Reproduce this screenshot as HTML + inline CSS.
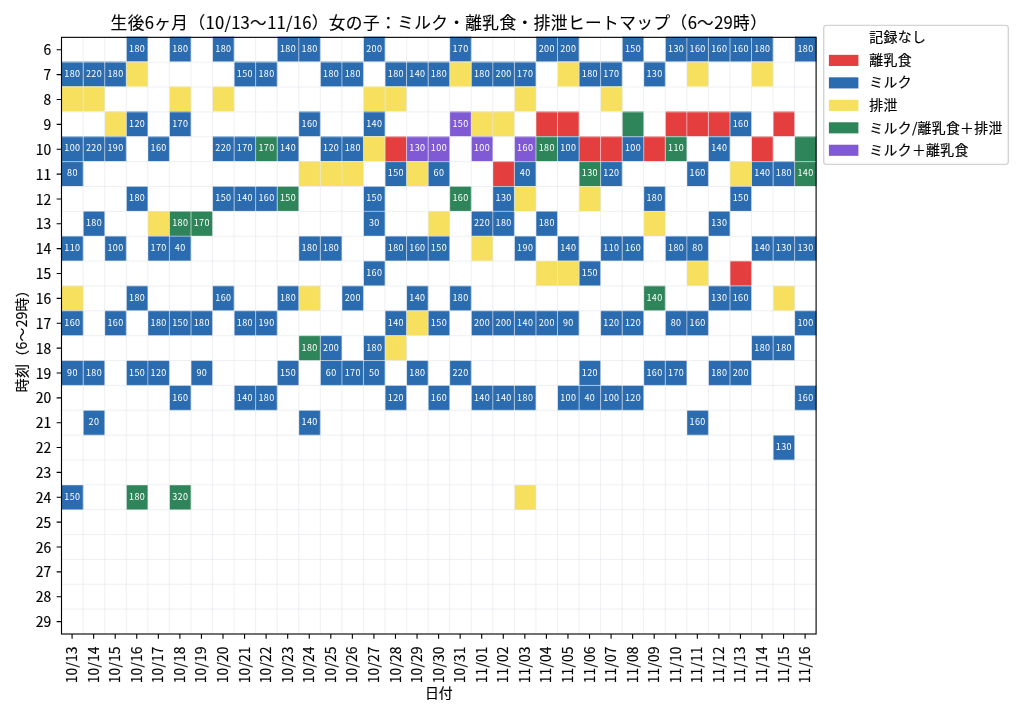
<!DOCTYPE html>
<html lang="ja"><head><meta charset="utf-8"><title>ヒートマップ</title>
<style>html,body{margin:0;padding:0;background:#fff}body{width:1024px;height:717px;overflow:hidden}svg{display:block}text{font-family:"Noto Sans CJK JP", "Liberation Sans", sans-serif;fill:#000}.c{font-size:9.03px;text-anchor:middle;letter-spacing:0.38px}.c text{fill:#fff}.t{font-size:13.89px}.t text,text.t{stroke:#000;stroke-width:0.18px}</style></head><body>
<svg width="1024" height="717" viewBox="0 0 1024 717">
<rect width="1024" height="717" fill="#fff"/>
<g shape-rendering="auto">
<rect x="126.43" y="36.70" width="21.56" height="24.91" fill="#2b6cb0"/>
<rect x="169.55" y="36.70" width="21.56" height="24.91" fill="#2b6cb0"/>
<rect x="212.67" y="36.70" width="21.56" height="24.91" fill="#2b6cb0"/>
<rect x="277.35" y="36.70" width="21.56" height="24.91" fill="#2b6cb0"/>
<rect x="298.91" y="36.70" width="21.56" height="24.91" fill="#2b6cb0"/>
<rect x="363.59" y="36.70" width="21.56" height="24.91" fill="#2b6cb0"/>
<rect x="449.83" y="36.70" width="21.56" height="24.91" fill="#2b6cb0"/>
<rect x="536.07" y="36.70" width="21.56" height="24.91" fill="#2b6cb0"/>
<rect x="557.63" y="36.70" width="21.56" height="24.91" fill="#2b6cb0"/>
<rect x="622.31" y="36.70" width="21.56" height="24.91" fill="#2b6cb0"/>
<rect x="665.43" y="36.70" width="21.56" height="24.91" fill="#2b6cb0"/>
<rect x="686.99" y="36.70" width="21.56" height="24.91" fill="#2b6cb0"/>
<rect x="708.55" y="36.70" width="21.56" height="24.91" fill="#2b6cb0"/>
<rect x="730.11" y="36.70" width="21.56" height="24.91" fill="#2b6cb0"/>
<rect x="751.67" y="36.70" width="21.56" height="24.91" fill="#2b6cb0"/>
<rect x="794.79" y="36.70" width="21.56" height="24.91" fill="#2b6cb0"/>
<rect x="61.75" y="61.61" width="21.56" height="24.91" fill="#2b6cb0"/>
<rect x="83.31" y="61.61" width="21.56" height="24.91" fill="#2b6cb0"/>
<rect x="104.87" y="61.61" width="21.56" height="24.91" fill="#2b6cb0"/>
<rect x="126.43" y="61.61" width="21.56" height="24.91" fill="#f6e05e"/>
<rect x="234.23" y="61.61" width="21.56" height="24.91" fill="#2b6cb0"/>
<rect x="255.79" y="61.61" width="21.56" height="24.91" fill="#2b6cb0"/>
<rect x="320.47" y="61.61" width="21.56" height="24.91" fill="#2b6cb0"/>
<rect x="342.03" y="61.61" width="21.56" height="24.91" fill="#2b6cb0"/>
<rect x="385.15" y="61.61" width="21.56" height="24.91" fill="#2b6cb0"/>
<rect x="406.71" y="61.61" width="21.56" height="24.91" fill="#2b6cb0"/>
<rect x="428.27" y="61.61" width="21.56" height="24.91" fill="#2b6cb0"/>
<rect x="449.83" y="61.61" width="21.56" height="24.91" fill="#f6e05e"/>
<rect x="471.39" y="61.61" width="21.56" height="24.91" fill="#2b6cb0"/>
<rect x="492.95" y="61.61" width="21.56" height="24.91" fill="#2b6cb0"/>
<rect x="514.51" y="61.61" width="21.56" height="24.91" fill="#2b6cb0"/>
<rect x="557.63" y="61.61" width="21.56" height="24.91" fill="#f6e05e"/>
<rect x="579.19" y="61.61" width="21.56" height="24.91" fill="#2b6cb0"/>
<rect x="600.75" y="61.61" width="21.56" height="24.91" fill="#2b6cb0"/>
<rect x="643.87" y="61.61" width="21.56" height="24.91" fill="#2b6cb0"/>
<rect x="686.99" y="61.61" width="21.56" height="24.91" fill="#f6e05e"/>
<rect x="751.67" y="61.61" width="21.56" height="24.91" fill="#f6e05e"/>
<rect x="61.75" y="86.52" width="21.56" height="24.91" fill="#f6e05e"/>
<rect x="83.31" y="86.52" width="21.56" height="24.91" fill="#f6e05e"/>
<rect x="169.55" y="86.52" width="21.56" height="24.91" fill="#f6e05e"/>
<rect x="212.67" y="86.52" width="21.56" height="24.91" fill="#f6e05e"/>
<rect x="363.59" y="86.52" width="21.56" height="24.91" fill="#f6e05e"/>
<rect x="385.15" y="86.52" width="21.56" height="24.91" fill="#f6e05e"/>
<rect x="514.51" y="86.52" width="21.56" height="24.91" fill="#f6e05e"/>
<rect x="600.75" y="86.52" width="21.56" height="24.91" fill="#f6e05e"/>
<rect x="104.87" y="111.42" width="21.56" height="24.91" fill="#f6e05e"/>
<rect x="126.43" y="111.42" width="21.56" height="24.91" fill="#2b6cb0"/>
<rect x="169.55" y="111.42" width="21.56" height="24.91" fill="#2b6cb0"/>
<rect x="298.91" y="111.42" width="21.56" height="24.91" fill="#2b6cb0"/>
<rect x="363.59" y="111.42" width="21.56" height="24.91" fill="#2b6cb0"/>
<rect x="449.83" y="111.42" width="21.56" height="24.91" fill="#805ad5"/>
<rect x="471.39" y="111.42" width="21.56" height="24.91" fill="#f6e05e"/>
<rect x="492.95" y="111.42" width="21.56" height="24.91" fill="#f6e05e"/>
<rect x="536.07" y="111.42" width="21.56" height="24.91" fill="#e53e3e"/>
<rect x="557.63" y="111.42" width="21.56" height="24.91" fill="#e53e3e"/>
<rect x="622.31" y="111.42" width="21.56" height="24.91" fill="#2f855a"/>
<rect x="665.43" y="111.42" width="21.56" height="24.91" fill="#e53e3e"/>
<rect x="686.99" y="111.42" width="21.56" height="24.91" fill="#e53e3e"/>
<rect x="708.55" y="111.42" width="21.56" height="24.91" fill="#e53e3e"/>
<rect x="730.11" y="111.42" width="21.56" height="24.91" fill="#2b6cb0"/>
<rect x="773.23" y="111.42" width="21.56" height="24.91" fill="#e53e3e"/>
<rect x="61.75" y="136.33" width="21.56" height="24.91" fill="#2b6cb0"/>
<rect x="83.31" y="136.33" width="21.56" height="24.91" fill="#2b6cb0"/>
<rect x="104.87" y="136.33" width="21.56" height="24.91" fill="#2b6cb0"/>
<rect x="147.99" y="136.33" width="21.56" height="24.91" fill="#2b6cb0"/>
<rect x="212.67" y="136.33" width="21.56" height="24.91" fill="#2b6cb0"/>
<rect x="234.23" y="136.33" width="21.56" height="24.91" fill="#2b6cb0"/>
<rect x="255.79" y="136.33" width="21.56" height="24.91" fill="#2f855a"/>
<rect x="277.35" y="136.33" width="21.56" height="24.91" fill="#2b6cb0"/>
<rect x="320.47" y="136.33" width="21.56" height="24.91" fill="#2b6cb0"/>
<rect x="342.03" y="136.33" width="21.56" height="24.91" fill="#2b6cb0"/>
<rect x="363.59" y="136.33" width="21.56" height="24.91" fill="#f6e05e"/>
<rect x="385.15" y="136.33" width="21.56" height="24.91" fill="#e53e3e"/>
<rect x="406.71" y="136.33" width="21.56" height="24.91" fill="#805ad5"/>
<rect x="428.27" y="136.33" width="21.56" height="24.91" fill="#805ad5"/>
<rect x="471.39" y="136.33" width="21.56" height="24.91" fill="#805ad5"/>
<rect x="514.51" y="136.33" width="21.56" height="24.91" fill="#805ad5"/>
<rect x="536.07" y="136.33" width="21.56" height="24.91" fill="#2f855a"/>
<rect x="557.63" y="136.33" width="21.56" height="24.91" fill="#2b6cb0"/>
<rect x="579.19" y="136.33" width="21.56" height="24.91" fill="#e53e3e"/>
<rect x="600.75" y="136.33" width="21.56" height="24.91" fill="#e53e3e"/>
<rect x="622.31" y="136.33" width="21.56" height="24.91" fill="#2b6cb0"/>
<rect x="643.87" y="136.33" width="21.56" height="24.91" fill="#e53e3e"/>
<rect x="665.43" y="136.33" width="21.56" height="24.91" fill="#2f855a"/>
<rect x="708.55" y="136.33" width="21.56" height="24.91" fill="#2b6cb0"/>
<rect x="751.67" y="136.33" width="21.56" height="24.91" fill="#e53e3e"/>
<rect x="794.79" y="136.33" width="21.56" height="24.91" fill="#2f855a"/>
<rect x="61.75" y="161.24" width="21.56" height="24.91" fill="#2b6cb0"/>
<rect x="298.91" y="161.24" width="21.56" height="24.91" fill="#f6e05e"/>
<rect x="320.47" y="161.24" width="21.56" height="24.91" fill="#f6e05e"/>
<rect x="342.03" y="161.24" width="21.56" height="24.91" fill="#f6e05e"/>
<rect x="385.15" y="161.24" width="21.56" height="24.91" fill="#2b6cb0"/>
<rect x="406.71" y="161.24" width="21.56" height="24.91" fill="#f6e05e"/>
<rect x="428.27" y="161.24" width="21.56" height="24.91" fill="#2b6cb0"/>
<rect x="492.95" y="161.24" width="21.56" height="24.91" fill="#e53e3e"/>
<rect x="514.51" y="161.24" width="21.56" height="24.91" fill="#2b6cb0"/>
<rect x="579.19" y="161.24" width="21.56" height="24.91" fill="#2f855a"/>
<rect x="600.75" y="161.24" width="21.56" height="24.91" fill="#2b6cb0"/>
<rect x="686.99" y="161.24" width="21.56" height="24.91" fill="#2b6cb0"/>
<rect x="730.11" y="161.24" width="21.56" height="24.91" fill="#f6e05e"/>
<rect x="751.67" y="161.24" width="21.56" height="24.91" fill="#2b6cb0"/>
<rect x="773.23" y="161.24" width="21.56" height="24.91" fill="#2b6cb0"/>
<rect x="794.79" y="161.24" width="21.56" height="24.91" fill="#2f855a"/>
<rect x="126.43" y="186.15" width="21.56" height="24.91" fill="#2b6cb0"/>
<rect x="212.67" y="186.15" width="21.56" height="24.91" fill="#2b6cb0"/>
<rect x="234.23" y="186.15" width="21.56" height="24.91" fill="#2b6cb0"/>
<rect x="255.79" y="186.15" width="21.56" height="24.91" fill="#2b6cb0"/>
<rect x="277.35" y="186.15" width="21.56" height="24.91" fill="#2f855a"/>
<rect x="363.59" y="186.15" width="21.56" height="24.91" fill="#2b6cb0"/>
<rect x="449.83" y="186.15" width="21.56" height="24.91" fill="#2f855a"/>
<rect x="492.95" y="186.15" width="21.56" height="24.91" fill="#2b6cb0"/>
<rect x="514.51" y="186.15" width="21.56" height="24.91" fill="#f6e05e"/>
<rect x="579.19" y="186.15" width="21.56" height="24.91" fill="#f6e05e"/>
<rect x="643.87" y="186.15" width="21.56" height="24.91" fill="#2b6cb0"/>
<rect x="730.11" y="186.15" width="21.56" height="24.91" fill="#2b6cb0"/>
<rect x="83.31" y="211.06" width="21.56" height="24.91" fill="#2b6cb0"/>
<rect x="147.99" y="211.06" width="21.56" height="24.91" fill="#f6e05e"/>
<rect x="169.55" y="211.06" width="21.56" height="24.91" fill="#2f855a"/>
<rect x="191.11" y="211.06" width="21.56" height="24.91" fill="#2f855a"/>
<rect x="363.59" y="211.06" width="21.56" height="24.91" fill="#2b6cb0"/>
<rect x="428.27" y="211.06" width="21.56" height="24.91" fill="#f6e05e"/>
<rect x="471.39" y="211.06" width="21.56" height="24.91" fill="#2b6cb0"/>
<rect x="492.95" y="211.06" width="21.56" height="24.91" fill="#2b6cb0"/>
<rect x="536.07" y="211.06" width="21.56" height="24.91" fill="#2b6cb0"/>
<rect x="643.87" y="211.06" width="21.56" height="24.91" fill="#f6e05e"/>
<rect x="708.55" y="211.06" width="21.56" height="24.91" fill="#2b6cb0"/>
<rect x="61.75" y="235.97" width="21.56" height="24.91" fill="#2b6cb0"/>
<rect x="104.87" y="235.97" width="21.56" height="24.91" fill="#2b6cb0"/>
<rect x="147.99" y="235.97" width="21.56" height="24.91" fill="#2b6cb0"/>
<rect x="169.55" y="235.97" width="21.56" height="24.91" fill="#2b6cb0"/>
<rect x="298.91" y="235.97" width="21.56" height="24.91" fill="#2b6cb0"/>
<rect x="320.47" y="235.97" width="21.56" height="24.91" fill="#2b6cb0"/>
<rect x="385.15" y="235.97" width="21.56" height="24.91" fill="#2b6cb0"/>
<rect x="406.71" y="235.97" width="21.56" height="24.91" fill="#2b6cb0"/>
<rect x="428.27" y="235.97" width="21.56" height="24.91" fill="#2b6cb0"/>
<rect x="471.39" y="235.97" width="21.56" height="24.91" fill="#f6e05e"/>
<rect x="514.51" y="235.97" width="21.56" height="24.91" fill="#2b6cb0"/>
<rect x="557.63" y="235.97" width="21.56" height="24.91" fill="#2b6cb0"/>
<rect x="600.75" y="235.97" width="21.56" height="24.91" fill="#2b6cb0"/>
<rect x="622.31" y="235.97" width="21.56" height="24.91" fill="#2b6cb0"/>
<rect x="665.43" y="235.97" width="21.56" height="24.91" fill="#2b6cb0"/>
<rect x="686.99" y="235.97" width="21.56" height="24.91" fill="#2b6cb0"/>
<rect x="751.67" y="235.97" width="21.56" height="24.91" fill="#2b6cb0"/>
<rect x="773.23" y="235.97" width="21.56" height="24.91" fill="#2b6cb0"/>
<rect x="794.79" y="235.97" width="21.56" height="24.91" fill="#2b6cb0"/>
<rect x="363.59" y="260.88" width="21.56" height="24.91" fill="#2b6cb0"/>
<rect x="536.07" y="260.88" width="21.56" height="24.91" fill="#f6e05e"/>
<rect x="557.63" y="260.88" width="21.56" height="24.91" fill="#f6e05e"/>
<rect x="579.19" y="260.88" width="21.56" height="24.91" fill="#2b6cb0"/>
<rect x="686.99" y="260.88" width="21.56" height="24.91" fill="#f6e05e"/>
<rect x="730.11" y="260.88" width="21.56" height="24.91" fill="#e53e3e"/>
<rect x="61.75" y="285.78" width="21.56" height="24.91" fill="#f6e05e"/>
<rect x="126.43" y="285.78" width="21.56" height="24.91" fill="#2b6cb0"/>
<rect x="212.67" y="285.78" width="21.56" height="24.91" fill="#2b6cb0"/>
<rect x="277.35" y="285.78" width="21.56" height="24.91" fill="#2b6cb0"/>
<rect x="298.91" y="285.78" width="21.56" height="24.91" fill="#f6e05e"/>
<rect x="342.03" y="285.78" width="21.56" height="24.91" fill="#2b6cb0"/>
<rect x="406.71" y="285.78" width="21.56" height="24.91" fill="#2b6cb0"/>
<rect x="449.83" y="285.78" width="21.56" height="24.91" fill="#2b6cb0"/>
<rect x="643.87" y="285.78" width="21.56" height="24.91" fill="#2f855a"/>
<rect x="708.55" y="285.78" width="21.56" height="24.91" fill="#2b6cb0"/>
<rect x="730.11" y="285.78" width="21.56" height="24.91" fill="#2b6cb0"/>
<rect x="773.23" y="285.78" width="21.56" height="24.91" fill="#f6e05e"/>
<rect x="61.75" y="310.69" width="21.56" height="24.91" fill="#2b6cb0"/>
<rect x="104.87" y="310.69" width="21.56" height="24.91" fill="#2b6cb0"/>
<rect x="147.99" y="310.69" width="21.56" height="24.91" fill="#2b6cb0"/>
<rect x="169.55" y="310.69" width="21.56" height="24.91" fill="#2b6cb0"/>
<rect x="191.11" y="310.69" width="21.56" height="24.91" fill="#2b6cb0"/>
<rect x="234.23" y="310.69" width="21.56" height="24.91" fill="#2b6cb0"/>
<rect x="255.79" y="310.69" width="21.56" height="24.91" fill="#2b6cb0"/>
<rect x="385.15" y="310.69" width="21.56" height="24.91" fill="#2b6cb0"/>
<rect x="406.71" y="310.69" width="21.56" height="24.91" fill="#f6e05e"/>
<rect x="428.27" y="310.69" width="21.56" height="24.91" fill="#2b6cb0"/>
<rect x="471.39" y="310.69" width="21.56" height="24.91" fill="#2b6cb0"/>
<rect x="492.95" y="310.69" width="21.56" height="24.91" fill="#2b6cb0"/>
<rect x="514.51" y="310.69" width="21.56" height="24.91" fill="#2b6cb0"/>
<rect x="536.07" y="310.69" width="21.56" height="24.91" fill="#2b6cb0"/>
<rect x="557.63" y="310.69" width="21.56" height="24.91" fill="#2b6cb0"/>
<rect x="600.75" y="310.69" width="21.56" height="24.91" fill="#2b6cb0"/>
<rect x="622.31" y="310.69" width="21.56" height="24.91" fill="#2b6cb0"/>
<rect x="665.43" y="310.69" width="21.56" height="24.91" fill="#2b6cb0"/>
<rect x="686.99" y="310.69" width="21.56" height="24.91" fill="#2b6cb0"/>
<rect x="794.79" y="310.69" width="21.56" height="24.91" fill="#2b6cb0"/>
<rect x="298.91" y="335.60" width="21.56" height="24.91" fill="#2f855a"/>
<rect x="320.47" y="335.60" width="21.56" height="24.91" fill="#2b6cb0"/>
<rect x="363.59" y="335.60" width="21.56" height="24.91" fill="#2b6cb0"/>
<rect x="385.15" y="335.60" width="21.56" height="24.91" fill="#f6e05e"/>
<rect x="751.67" y="335.60" width="21.56" height="24.91" fill="#2b6cb0"/>
<rect x="773.23" y="335.60" width="21.56" height="24.91" fill="#2b6cb0"/>
<rect x="61.75" y="360.51" width="21.56" height="24.91" fill="#2b6cb0"/>
<rect x="83.31" y="360.51" width="21.56" height="24.91" fill="#2b6cb0"/>
<rect x="126.43" y="360.51" width="21.56" height="24.91" fill="#2b6cb0"/>
<rect x="147.99" y="360.51" width="21.56" height="24.91" fill="#2b6cb0"/>
<rect x="191.11" y="360.51" width="21.56" height="24.91" fill="#2b6cb0"/>
<rect x="277.35" y="360.51" width="21.56" height="24.91" fill="#2b6cb0"/>
<rect x="320.47" y="360.51" width="21.56" height="24.91" fill="#2b6cb0"/>
<rect x="342.03" y="360.51" width="21.56" height="24.91" fill="#2b6cb0"/>
<rect x="363.59" y="360.51" width="21.56" height="24.91" fill="#2b6cb0"/>
<rect x="406.71" y="360.51" width="21.56" height="24.91" fill="#2b6cb0"/>
<rect x="449.83" y="360.51" width="21.56" height="24.91" fill="#2b6cb0"/>
<rect x="579.19" y="360.51" width="21.56" height="24.91" fill="#2b6cb0"/>
<rect x="643.87" y="360.51" width="21.56" height="24.91" fill="#2b6cb0"/>
<rect x="665.43" y="360.51" width="21.56" height="24.91" fill="#2b6cb0"/>
<rect x="708.55" y="360.51" width="21.56" height="24.91" fill="#2b6cb0"/>
<rect x="730.11" y="360.51" width="21.56" height="24.91" fill="#2b6cb0"/>
<rect x="169.55" y="385.42" width="21.56" height="24.91" fill="#2b6cb0"/>
<rect x="234.23" y="385.42" width="21.56" height="24.91" fill="#2b6cb0"/>
<rect x="255.79" y="385.42" width="21.56" height="24.91" fill="#2b6cb0"/>
<rect x="385.15" y="385.42" width="21.56" height="24.91" fill="#2b6cb0"/>
<rect x="428.27" y="385.42" width="21.56" height="24.91" fill="#2b6cb0"/>
<rect x="471.39" y="385.42" width="21.56" height="24.91" fill="#2b6cb0"/>
<rect x="492.95" y="385.42" width="21.56" height="24.91" fill="#2b6cb0"/>
<rect x="514.51" y="385.42" width="21.56" height="24.91" fill="#2b6cb0"/>
<rect x="557.63" y="385.42" width="21.56" height="24.91" fill="#2b6cb0"/>
<rect x="579.19" y="385.42" width="21.56" height="24.91" fill="#2b6cb0"/>
<rect x="600.75" y="385.42" width="21.56" height="24.91" fill="#2b6cb0"/>
<rect x="622.31" y="385.42" width="21.56" height="24.91" fill="#2b6cb0"/>
<rect x="794.79" y="385.42" width="21.56" height="24.91" fill="#2b6cb0"/>
<rect x="83.31" y="410.32" width="21.56" height="24.91" fill="#2b6cb0"/>
<rect x="298.91" y="410.32" width="21.56" height="24.91" fill="#2b6cb0"/>
<rect x="686.99" y="410.32" width="21.56" height="24.91" fill="#2b6cb0"/>
<rect x="773.23" y="435.23" width="21.56" height="24.91" fill="#2b6cb0"/>
<rect x="61.75" y="485.05" width="21.56" height="24.91" fill="#2b6cb0"/>
<rect x="126.43" y="485.05" width="21.56" height="24.91" fill="#2f855a"/>
<rect x="169.55" y="485.05" width="21.56" height="24.91" fill="#2f855a"/>
<rect x="514.51" y="485.05" width="21.56" height="24.91" fill="#f6e05e"/>
</g>
<path d="M83.16 37.35V634.00M104.72 37.35V634.00M126.28 37.35V634.00M147.84 37.35V634.00M169.40 37.35V634.00M190.96 37.35V634.00M212.52 37.35V634.00M234.08 37.35V634.00M255.64 37.35V634.00M277.20 37.35V634.00M298.76 37.35V634.00M320.32 37.35V634.00M341.88 37.35V634.00M363.44 37.35V634.00M385.00 37.35V634.00M406.56 37.35V634.00M428.12 37.35V634.00M449.68 37.35V634.00M471.24 37.35V634.00M492.80 37.35V634.00M514.36 37.35V634.00M535.92 37.35V634.00M557.48 37.35V634.00M579.04 37.35V634.00M600.60 37.35V634.00M622.16 37.35V634.00M643.72 37.35V634.00M665.28 37.35V634.00M686.84 37.35V634.00M708.40 37.35V634.00M729.96 37.35V634.00M751.52 37.35V634.00M773.08 37.35V634.00M794.64 37.35V634.00M61.50 62.21H816.10M61.50 87.07H816.10M61.50 111.93H816.10M61.50 136.79H816.10M61.50 161.65H816.10M61.50 186.51H816.10M61.50 211.37H816.10M61.50 236.23H816.10M61.50 261.09H816.10M61.50 285.95H816.10M61.50 310.81H816.10M61.50 335.68H816.10M61.50 360.54H816.10M61.50 385.40H816.10M61.50 410.26H816.10M61.50 435.12H816.10M61.50 459.98H816.10M61.50 484.84H816.10M61.50 509.70H816.10M61.50 534.56H816.10M61.50 559.42H816.10M61.50 584.28H816.10M61.50 609.14H816.10" stroke="#e4e7ec" stroke-opacity="0.9" stroke-width="0.7" fill="none"/>
<g class="c">
<text x="137.11" y="51.85">180</text>
<text x="180.23" y="51.85">180</text>
<text x="223.35" y="51.85">180</text>
<text x="288.03" y="51.85">180</text>
<text x="309.59" y="51.85">180</text>
<text x="374.27" y="51.85">200</text>
<text x="460.51" y="51.85">170</text>
<text x="546.75" y="51.85">200</text>
<text x="568.31" y="51.85">200</text>
<text x="632.99" y="51.85">150</text>
<text x="676.11" y="51.85">130</text>
<text x="697.67" y="51.85">160</text>
<text x="719.23" y="51.85">160</text>
<text x="740.79" y="51.85">160</text>
<text x="762.35" y="51.85">180</text>
<text x="805.47" y="51.85">180</text>
<text x="72.43" y="76.76">180</text>
<text x="93.99" y="76.76">220</text>
<text x="115.55" y="76.76">180</text>
<text x="244.91" y="76.76">150</text>
<text x="266.47" y="76.76">180</text>
<text x="331.15" y="76.76">180</text>
<text x="352.71" y="76.76">180</text>
<text x="395.83" y="76.76">180</text>
<text x="417.39" y="76.76">140</text>
<text x="438.95" y="76.76">180</text>
<text x="482.07" y="76.76">180</text>
<text x="503.63" y="76.76">200</text>
<text x="525.19" y="76.76">170</text>
<text x="589.87" y="76.76">180</text>
<text x="611.43" y="76.76">170</text>
<text x="654.55" y="76.76">130</text>
<text x="137.11" y="126.58">120</text>
<text x="180.23" y="126.58">170</text>
<text x="309.59" y="126.58">160</text>
<text x="374.27" y="126.58">140</text>
<text x="460.51" y="126.58">150</text>
<text x="740.79" y="126.58">160</text>
<text x="72.43" y="151.49">100</text>
<text x="93.99" y="151.49">220</text>
<text x="115.55" y="151.49">190</text>
<text x="158.67" y="151.49">160</text>
<text x="223.35" y="151.49">220</text>
<text x="244.91" y="151.49">170</text>
<text x="266.47" y="151.49">170</text>
<text x="288.03" y="151.49">140</text>
<text x="331.15" y="151.49">120</text>
<text x="352.71" y="151.49">180</text>
<text x="417.39" y="151.49">130</text>
<text x="438.95" y="151.49">100</text>
<text x="482.07" y="151.49">100</text>
<text x="525.19" y="151.49">160</text>
<text x="546.75" y="151.49">180</text>
<text x="568.31" y="151.49">100</text>
<text x="632.99" y="151.49">100</text>
<text x="676.11" y="151.49">110</text>
<text x="719.23" y="151.49">140</text>
<text x="72.43" y="176.40">80</text>
<text x="395.83" y="176.40">150</text>
<text x="438.95" y="176.40">60</text>
<text x="525.19" y="176.40">40</text>
<text x="589.87" y="176.40">130</text>
<text x="611.43" y="176.40">120</text>
<text x="697.67" y="176.40">160</text>
<text x="762.35" y="176.40">140</text>
<text x="783.91" y="176.40">180</text>
<text x="805.47" y="176.40">140</text>
<text x="137.11" y="201.30">180</text>
<text x="223.35" y="201.30">150</text>
<text x="244.91" y="201.30">140</text>
<text x="266.47" y="201.30">160</text>
<text x="288.03" y="201.30">150</text>
<text x="374.27" y="201.30">150</text>
<text x="460.51" y="201.30">160</text>
<text x="503.63" y="201.30">130</text>
<text x="654.55" y="201.30">180</text>
<text x="740.79" y="201.30">150</text>
<text x="93.99" y="226.21">180</text>
<text x="180.23" y="226.21">180</text>
<text x="201.79" y="226.21">170</text>
<text x="374.27" y="226.21">30</text>
<text x="482.07" y="226.21">220</text>
<text x="503.63" y="226.21">180</text>
<text x="546.75" y="226.21">180</text>
<text x="719.23" y="226.21">130</text>
<text x="72.43" y="251.12">110</text>
<text x="115.55" y="251.12">100</text>
<text x="158.67" y="251.12">170</text>
<text x="180.23" y="251.12">40</text>
<text x="309.59" y="251.12">180</text>
<text x="331.15" y="251.12">180</text>
<text x="395.83" y="251.12">180</text>
<text x="417.39" y="251.12">160</text>
<text x="438.95" y="251.12">150</text>
<text x="525.19" y="251.12">190</text>
<text x="568.31" y="251.12">140</text>
<text x="611.43" y="251.12">110</text>
<text x="632.99" y="251.12">160</text>
<text x="676.11" y="251.12">180</text>
<text x="697.67" y="251.12">80</text>
<text x="762.35" y="251.12">140</text>
<text x="783.91" y="251.12">130</text>
<text x="805.47" y="251.12">130</text>
<text x="374.27" y="276.03">160</text>
<text x="589.87" y="276.03">150</text>
<text x="137.11" y="300.94">180</text>
<text x="223.35" y="300.94">160</text>
<text x="288.03" y="300.94">180</text>
<text x="352.71" y="300.94">200</text>
<text x="417.39" y="300.94">140</text>
<text x="460.51" y="300.94">180</text>
<text x="654.55" y="300.94">140</text>
<text x="719.23" y="300.94">130</text>
<text x="740.79" y="300.94">160</text>
<text x="72.43" y="325.85">160</text>
<text x="115.55" y="325.85">160</text>
<text x="158.67" y="325.85">180</text>
<text x="180.23" y="325.85">150</text>
<text x="201.79" y="325.85">180</text>
<text x="244.91" y="325.85">180</text>
<text x="266.47" y="325.85">190</text>
<text x="395.83" y="325.85">140</text>
<text x="438.95" y="325.85">150</text>
<text x="482.07" y="325.85">200</text>
<text x="503.63" y="325.85">200</text>
<text x="525.19" y="325.85">140</text>
<text x="546.75" y="325.85">200</text>
<text x="568.31" y="325.85">90</text>
<text x="611.43" y="325.85">120</text>
<text x="632.99" y="325.85">120</text>
<text x="676.11" y="325.85">80</text>
<text x="697.67" y="325.85">160</text>
<text x="805.47" y="325.85">100</text>
<text x="309.59" y="350.75">180</text>
<text x="331.15" y="350.75">200</text>
<text x="374.27" y="350.75">180</text>
<text x="762.35" y="350.75">180</text>
<text x="783.91" y="350.75">180</text>
<text x="72.43" y="375.66">90</text>
<text x="93.99" y="375.66">180</text>
<text x="137.11" y="375.66">150</text>
<text x="158.67" y="375.66">120</text>
<text x="201.79" y="375.66">90</text>
<text x="288.03" y="375.66">150</text>
<text x="331.15" y="375.66">60</text>
<text x="352.71" y="375.66">170</text>
<text x="374.27" y="375.66">50</text>
<text x="417.39" y="375.66">180</text>
<text x="460.51" y="375.66">220</text>
<text x="589.87" y="375.66">120</text>
<text x="654.55" y="375.66">160</text>
<text x="676.11" y="375.66">170</text>
<text x="719.23" y="375.66">180</text>
<text x="740.79" y="375.66">200</text>
<text x="180.23" y="400.57">160</text>
<text x="244.91" y="400.57">140</text>
<text x="266.47" y="400.57">180</text>
<text x="395.83" y="400.57">120</text>
<text x="438.95" y="400.57">160</text>
<text x="482.07" y="400.57">140</text>
<text x="503.63" y="400.57">140</text>
<text x="525.19" y="400.57">180</text>
<text x="568.31" y="400.57">100</text>
<text x="589.87" y="400.57">40</text>
<text x="611.43" y="400.57">100</text>
<text x="632.99" y="400.57">120</text>
<text x="805.47" y="400.57">160</text>
<text x="93.99" y="425.48">20</text>
<text x="309.59" y="425.48">140</text>
<text x="697.67" y="425.48">160</text>
<text x="783.91" y="450.39">130</text>
<text x="72.43" y="500.20">150</text>
<text x="137.11" y="500.20">180</text>
<text x="180.23" y="500.20">320</text>
</g>
<rect x="61.50" y="37.35" width="754.60" height="596.65" fill="none" stroke="#000" stroke-width="1.11"/>
<path d="M72.08 634.00v4.86M93.64 634.00v4.86M115.20 634.00v4.86M136.76 634.00v4.86M158.32 634.00v4.86M179.88 634.00v4.86M201.44 634.00v4.86M223.00 634.00v4.86M244.56 634.00v4.86M266.12 634.00v4.86M287.68 634.00v4.86M309.24 634.00v4.86M330.80 634.00v4.86M352.36 634.00v4.86M373.92 634.00v4.86M395.48 634.00v4.86M417.04 634.00v4.86M438.60 634.00v4.86M460.16 634.00v4.86M481.72 634.00v4.86M503.28 634.00v4.86M524.84 634.00v4.86M546.40 634.00v4.86M567.96 634.00v4.86M589.52 634.00v4.86M611.08 634.00v4.86M632.64 634.00v4.86M654.20 634.00v4.86M675.76 634.00v4.86M697.32 634.00v4.86M718.88 634.00v4.86M740.44 634.00v4.86M762.00 634.00v4.86M783.56 634.00v4.86M805.12 634.00v4.86M61.50 49.78h-4.86M61.50 74.64h-4.86M61.50 99.50h-4.86M61.50 124.36h-4.86M61.50 149.22h-4.86M61.50 174.08h-4.86M61.50 198.94h-4.86M61.50 223.80h-4.86M61.50 248.66h-4.86M61.50 273.52h-4.86M61.50 298.38h-4.86M61.50 323.24h-4.86M61.50 348.11h-4.86M61.50 372.97h-4.86M61.50 397.83h-4.86M61.50 422.69h-4.86M61.50 447.55h-4.86M61.50 472.41h-4.86M61.50 497.27h-4.86M61.50 522.13h-4.86M61.50 546.99h-4.86M61.50 571.85h-4.86M61.50 596.71h-4.86M61.50 621.57h-4.86" stroke="#000" stroke-width="1.11" fill="none"/>
<g class="t" text-anchor="end">
<text x="51.1" y="55.38">6</text>
<text x="51.1" y="80.24">7</text>
<text x="51.1" y="105.10">8</text>
<text x="51.1" y="129.96">9</text>
<text x="51.1" y="154.82">10</text>
<text x="51.1" y="179.68">11</text>
<text x="51.1" y="204.54">12</text>
<text x="51.1" y="229.40">13</text>
<text x="51.1" y="254.26">14</text>
<text x="51.1" y="279.12">15</text>
<text x="51.1" y="303.98">16</text>
<text x="51.1" y="328.84">17</text>
<text x="51.1" y="353.71">18</text>
<text x="51.1" y="378.57">19</text>
<text x="51.1" y="403.43">20</text>
<text x="51.1" y="428.29">21</text>
<text x="51.1" y="453.15">22</text>
<text x="51.1" y="478.01">23</text>
<text x="51.1" y="502.87">24</text>
<text x="51.1" y="527.73">25</text>
<text x="51.1" y="552.59">26</text>
<text x="51.1" y="577.45">27</text>
<text x="51.1" y="602.31">28</text>
<text x="51.1" y="627.17">29</text>
</g>
<g class="t" text-anchor="end">
<text transform="translate(72.53 646.4) rotate(-90)" x="0" y="4.6" letter-spacing="0.12">10/13</text>
<text transform="translate(94.09 646.4) rotate(-90)" x="0" y="4.6" letter-spacing="0.12">10/14</text>
<text transform="translate(115.65 646.4) rotate(-90)" x="0" y="4.6" letter-spacing="0.12">10/15</text>
<text transform="translate(137.21 646.4) rotate(-90)" x="0" y="4.6" letter-spacing="0.12">10/16</text>
<text transform="translate(158.77 646.4) rotate(-90)" x="0" y="4.6" letter-spacing="0.12">10/17</text>
<text transform="translate(180.33 646.4) rotate(-90)" x="0" y="4.6" letter-spacing="0.12">10/18</text>
<text transform="translate(201.89 646.4) rotate(-90)" x="0" y="4.6" letter-spacing="0.12">10/19</text>
<text transform="translate(223.45 646.4) rotate(-90)" x="0" y="4.6" letter-spacing="0.12">10/20</text>
<text transform="translate(245.01 646.4) rotate(-90)" x="0" y="4.6" letter-spacing="0.12">10/21</text>
<text transform="translate(266.57 646.4) rotate(-90)" x="0" y="4.6" letter-spacing="0.12">10/22</text>
<text transform="translate(288.13 646.4) rotate(-90)" x="0" y="4.6" letter-spacing="0.12">10/23</text>
<text transform="translate(309.69 646.4) rotate(-90)" x="0" y="4.6" letter-spacing="0.12">10/24</text>
<text transform="translate(331.25 646.4) rotate(-90)" x="0" y="4.6" letter-spacing="0.12">10/25</text>
<text transform="translate(352.81 646.4) rotate(-90)" x="0" y="4.6" letter-spacing="0.12">10/26</text>
<text transform="translate(374.37 646.4) rotate(-90)" x="0" y="4.6" letter-spacing="0.12">10/27</text>
<text transform="translate(395.93 646.4) rotate(-90)" x="0" y="4.6" letter-spacing="0.12">10/28</text>
<text transform="translate(417.49 646.4) rotate(-90)" x="0" y="4.6" letter-spacing="0.12">10/29</text>
<text transform="translate(439.05 646.4) rotate(-90)" x="0" y="4.6" letter-spacing="0.12">10/30</text>
<text transform="translate(460.61 646.4) rotate(-90)" x="0" y="4.6" letter-spacing="0.12">10/31</text>
<text transform="translate(482.17 646.4) rotate(-90)" x="0" y="4.6" letter-spacing="0.12">11/01</text>
<text transform="translate(503.73 646.4) rotate(-90)" x="0" y="4.6" letter-spacing="0.12">11/02</text>
<text transform="translate(525.29 646.4) rotate(-90)" x="0" y="4.6" letter-spacing="0.12">11/03</text>
<text transform="translate(546.85 646.4) rotate(-90)" x="0" y="4.6" letter-spacing="0.12">11/04</text>
<text transform="translate(568.41 646.4) rotate(-90)" x="0" y="4.6" letter-spacing="0.12">11/05</text>
<text transform="translate(589.97 646.4) rotate(-90)" x="0" y="4.6" letter-spacing="0.12">11/06</text>
<text transform="translate(611.53 646.4) rotate(-90)" x="0" y="4.6" letter-spacing="0.12">11/07</text>
<text transform="translate(633.09 646.4) rotate(-90)" x="0" y="4.6" letter-spacing="0.12">11/08</text>
<text transform="translate(654.65 646.4) rotate(-90)" x="0" y="4.6" letter-spacing="0.12">11/09</text>
<text transform="translate(676.21 646.4) rotate(-90)" x="0" y="4.6" letter-spacing="0.12">11/10</text>
<text transform="translate(697.77 646.4) rotate(-90)" x="0" y="4.6" letter-spacing="0.12">11/11</text>
<text transform="translate(719.33 646.4) rotate(-90)" x="0" y="4.6" letter-spacing="0.12">11/12</text>
<text transform="translate(740.89 646.4) rotate(-90)" x="0" y="4.6" letter-spacing="0.12">11/13</text>
<text transform="translate(762.45 646.4) rotate(-90)" x="0" y="4.6" letter-spacing="0.12">11/14</text>
<text transform="translate(784.01 646.4) rotate(-90)" x="0" y="4.6" letter-spacing="0.12">11/15</text>
<text transform="translate(805.57 646.4) rotate(-90)" x="0" y="4.6" letter-spacing="0.12">11/16</text>
</g>
<text class="t" text-anchor="middle" x="438.8" y="697.9">日付</text>
<text class="t" text-anchor="middle" transform="translate(26.5 337.6) rotate(-90)"><tspan letter-spacing="0.40">時刻（</tspan><tspan letter-spacing="0.20">6</tspan><tspan letter-spacing="0.40">〜</tspan><tspan letter-spacing="0.20">29</tspan><tspan letter-spacing="0.40">時）</tspan></text>
<text text-anchor="middle" x="438.95" y="29.1" style="font-size:16.67px;stroke:#000;stroke-width:0.12px"><tspan letter-spacing="0.45">生後</tspan><tspan letter-spacing="0.19">6</tspan><tspan letter-spacing="0.45">ヶ月（</tspan><tspan letter-spacing="0.19">10/13</tspan><tspan letter-spacing="0.45">〜</tspan><tspan letter-spacing="0.19">11/16</tspan><tspan letter-spacing="0.45">）女の子：ミルク・離乳食・排泄ヒートマップ（</tspan><tspan letter-spacing="0.19">6</tspan><tspan letter-spacing="0.45">〜</tspan><tspan letter-spacing="0.19">29</tspan><tspan letter-spacing="0.45">時）</tspan></text>
<rect x="823.70" y="25.40" width="184.60" height="139.00" rx="2.8" ry="2.8" fill="#fff" fill-opacity="0.8" stroke="#d4d4d4" stroke-width="1.39"/>
<g class="t">
<text x="869.3" y="42.00"><tspan letter-spacing="0.33">記録なし</tspan></text>
<rect x="828.9" y="54.85" width="29.5" height="11.11" fill="#e53e3e"/>
<text x="869.3" y="65.00"><tspan letter-spacing="0.33">離乳食</tspan></text>
<rect x="828.9" y="77.32" width="29.5" height="11.11" fill="#2b6cb0"/>
<text x="869.3" y="87.40"><tspan letter-spacing="0.33">ミルク</tspan></text>
<rect x="828.9" y="99.79" width="29.5" height="11.11" fill="#f6e05e"/>
<text x="869.3" y="110.00"><tspan letter-spacing="0.33">排泄</tspan></text>
<rect x="828.9" y="122.26" width="29.5" height="11.11" fill="#2f855a"/>
<text x="869.3" y="132.80"><tspan letter-spacing="0.33">ミルク</tspan><tspan letter-spacing="0.10">/</tspan><tspan letter-spacing="0.33">離乳食＋排泄</tspan></text>
<rect x="828.9" y="144.73" width="29.5" height="11.11" fill="#805ad5"/>
<text x="869.3" y="154.50"><tspan letter-spacing="0.33">ミルク＋離乳食</tspan></text>
</g>
</svg></body></html>
